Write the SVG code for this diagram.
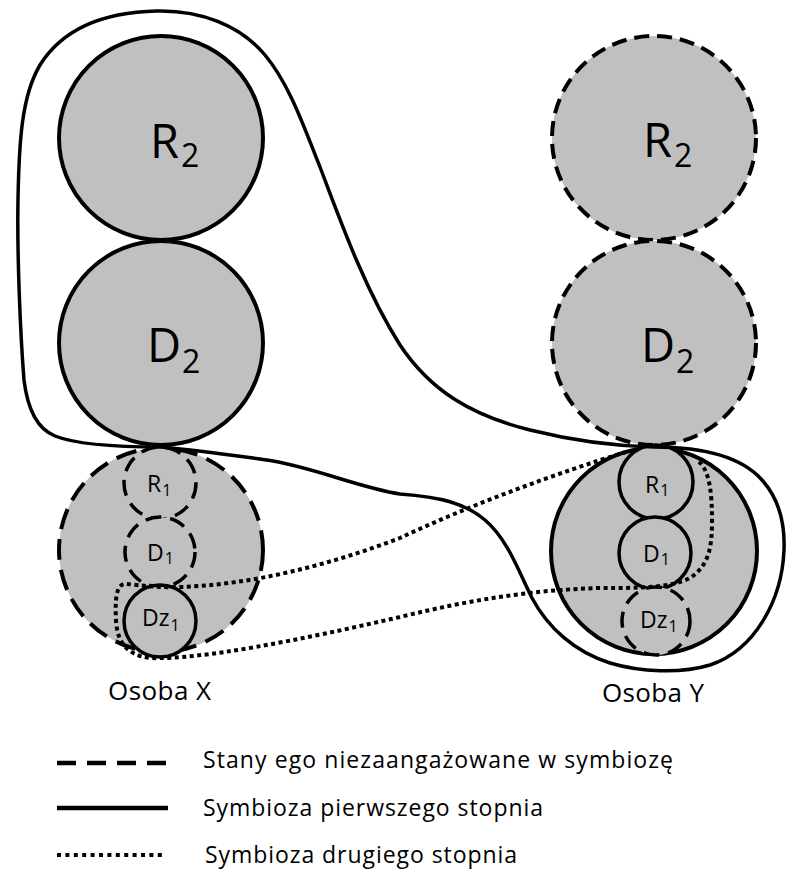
<svg xmlns="http://www.w3.org/2000/svg" width="796" height="883" viewBox="0 0 796 883">
<style>
  .node { fill: #c0c0c0; stroke: #000; stroke-width: 4; }
  .dashB { stroke-dasharray: 15 8; }
  .dashL { stroke-dasharray: 21 10; }
  .dashS { stroke-dasharray: 16 9; }
  .small { stroke-width: 3.5; }
  .lbl { font-family: "Open Sans", "Liberation Sans", sans-serif; fill: #000; }
  .big { font-size: 47px; }
  .bigsub { font-size: 32px; }
  .sm { font-size: 23px; }
  .smsub { font-size: 16px; }
  .name { font-size: 26px; }
  .leg { font-size: 23px; }
  .solid { fill: none; stroke: #000; stroke-width: 3.5; stroke-linejoin: round; }
  .dot { fill: none; stroke: #000; stroke-width: 4; stroke-dasharray: 4 3.5; }
</style>
<rect width="796" height="883" fill="#fff"/>

<g id="X-R2"><circle class="node" cx="161" cy="138" r="102"/>
  <text class="lbl big" x="150" y="158">R<tspan class="bigsub" dx="2" dy="9">2</tspan></text></g>
<g id="X-D2"><circle class="node" cx="161" cy="343" r="102"/>
  <text class="lbl big" x="147" y="362">D<tspan class="bigsub" dx="1" dy="11">2</tspan></text></g>
<g id="Y-R2"><circle class="node dashB" cx="654" cy="138" r="102"/>
  <text class="lbl big" x="643" y="157">R<tspan class="bigsub" dx="2" dy="10">2</tspan></text></g>
<g id="Y-D2"><circle class="node dashB" cx="654" cy="343" r="102"/>
  <text class="lbl big" x="641" y="362">D<tspan class="bigsub" dx="1" dy="11">2</tspan></text></g>

<g id="X-ego"><circle class="node dashL" cx="161" cy="550" r="102"/></g>
<g id="Y-ego"><circle class="node" cx="654" cy="551" r="103"/></g>

<g id="X-R1"><circle class="node small dashS" cx="160" cy="483" r="36"/>
  <text class="lbl sm" x="147" y="492">R<tspan class="smsub" dx="1" dy="4">1</tspan></text></g>
<g id="X-D1"><circle class="node small dashS" cx="160" cy="552" r="35"/>
  <text class="lbl sm" x="147" y="561">D<tspan class="smsub" dx="1" dy="3">1</tspan></text></g>
<g id="X-Dz1"><circle class="node small" cx="160" cy="621" r="36"/>
  <text class="lbl sm" x="142" y="626">Dz<tspan class="smsub" dx="1" dy="5">1</tspan></text></g>

<g id="Y-R1"><circle class="node small" cx="656" cy="482" r="37"/>
  <text class="lbl sm" x="645" y="493">R<tspan class="smsub" dx="1" dy="3">1</tspan></text></g>
<g id="Y-D1"><circle class="node small" cx="655" cy="553" r="36"/>
  <text class="lbl sm" x="643" y="562">D<tspan class="smsub" dx="1" dy="3">1</tspan></text></g>
<g id="Y-Dz1"><circle class="node small dashS" cx="656" cy="621" r="34"/>
  <text class="lbl sm" x="640" y="628">Dz<tspan class="smsub" dx="1" dy="4">1</tspan></text></g>

<g id="connectors">
  <path class="solid" d="M 161,447 C 120,447 75,444 55,436 C 35,428 27,405 24,380 C 20,330 17,250 18,200 C 19,140 22,95 40,65 C 65,25 110,12 157,11 C 200,10 240,25 265,55 C 290,85 305,130 320,167 C 340,220 365,290 400,345 C 430,390 470,415 530,430 C 570,440 610,446 654,447 C 700,447 740,455 762,480 C 780,500 785,525 784,550 C 782,600 755,650 710,665 C 680,674 640,672 610,663 C 575,652 548,628 532,598 C 518,570 508,540 485,520 C 465,503 440,497 400,494 C 360,488 310,466 267,460 C 230,455 195,450 161,447 Z"/>
  <path class="dot" d="M 626,452 C 560,472 470,505 400,538 C 330,565 250,585 180,587 C 150,588 135,584 124,584 C 116,586 115,600 116,620 C 117,640 125,655 150,658 C 200,660 300,640 400,617 C 470,600 530,590 600,588 C 640,588 670,588 690,578 C 710,565 712,545 712,520 C 712,495 710,470 698,461"/>
</g>

<g id="labels">
  <text class="lbl name" x="108" y="700" textLength="103">Osoba X</text>
  <text class="lbl name" x="602" y="702" textLength="102">Osoba Y</text>
</g>

<g id="legend">
  <line x1="57" y1="763" x2="166" y2="763" stroke="#000" stroke-width="4.5" stroke-dasharray="19 11"/>
  <line x1="57" y1="808" x2="168" y2="808" stroke="#000" stroke-width="4.5"/>
  <line x1="57" y1="855" x2="166" y2="855" stroke="#000" stroke-width="4" stroke-dasharray="4 4.4"/>
  <text class="lbl leg" x="203" y="768" textLength="470">Stany ego niezaangażowane w symbiozę</text>
  <text class="lbl leg" x="203" y="816" textLength="340">Symbioza pierwszego stopnia</text>
  <text class="lbl leg" x="205" y="863" textLength="312">Symbioza drugiego stopnia</text>
</g>
</svg>
